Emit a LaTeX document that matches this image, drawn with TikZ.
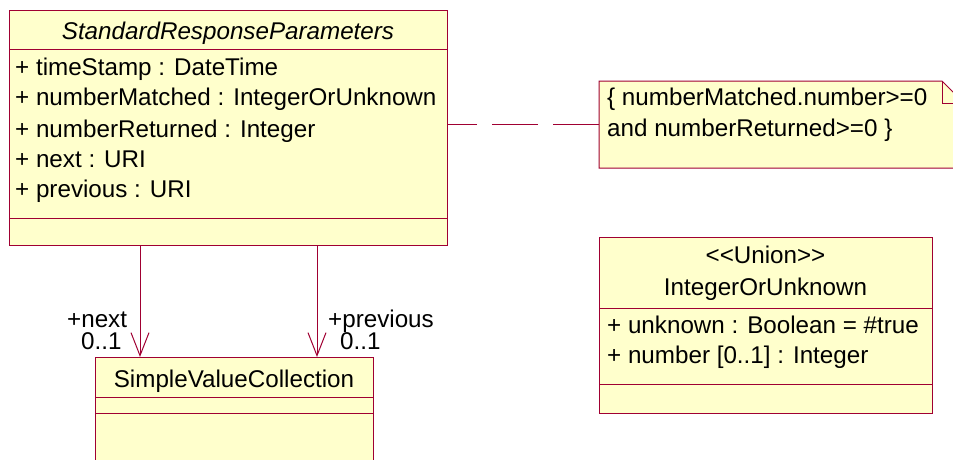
\documentclass[tikz,border=0pt]{standalone}
\usepackage{fontspec}
\setmainfont{Liberation Sans}
\usetikzlibrary{arrows.meta,calc}
\definecolor{umlline}{RGB}{160,0,50}
\definecolor{umlfill}{RGB}{255,255,204}
\tikzset{
  box/.style={draw=umlline, fill=umlfill, line width=1pt, anchor=north west, inner sep=0pt},
  sep/.style={draw=umlline, line width=1pt},
  txt/.style={inner sep=0pt, anchor=base west, font=\fontsize{24.2}{28}\selectfont},
  ctxt/.style={inner sep=0pt, anchor=base, font=\fontsize{24.2}{28}\selectfont},
  rolelbl/.style={inner sep=0pt, anchor=base west, align=left, font=\fontsize{24.2}{22}\selectfont},
  assoc/.style={draw=umlline, line width=1pt, -{Straight Barb[length=23pt,width=18pt,line width=1pt]}},
  anchorline/.style={draw=umlline, line width=1pt, dash pattern=on 46pt off 15pt},
}
\begin{document}
\begin{tikzpicture}[x=1pt,y=-1pt]
\useasboundingbox (0,0) rectangle (953,460);
\clip (0,0) rectangle (953,460);
% main class
\node[box, minimum width=438pt, minimum height=235pt] (main) at (9,10) {};
\draw[sep] (9,50) -- (447,50);
\draw[sep] (9,218) -- (447,218);
\node[ctxt, font=\fontsize{24.2}{28}\selectfont\itshape] (mt) at (228,40) {StandardResponseParameters};
\node[txt] (a1) at (15,76) {+ timeStamp : DateTime};
\node[txt] (a2) at (15,106) {+ numberMatched : IntegerOrUnknown};
\node[txt] (a3) at (15,137) {+ numberReturned : Integer};
\node[txt] (a4) at (15,167) {+ next : URI};
\node[txt] (a5) at (15,197) {+ previous : URI};
% simple value collection
\node[box, minimum width=278pt, minimum height=120pt] (svc) at (95,357) {};
\draw[sep] (95,397) -- (373,397);
\draw[sep] (95,413) -- (373,413);
\node[ctxt] (st) at (234,387) {SimpleValueCollection};
% associations
\draw[assoc] ($(main.south west)+(131,0)$) -- ($(svc.north west)+(45,0)$);
\draw[assoc] ($(main.south west)+(308,0)$) -- ($(svc.north west)+(222,0)$);
\node[rolelbl] (l1) at (67,349) {+next\\\hspace*{14pt}0..1};
\node[rolelbl] (l3) at (328,349) {+previous\\\hspace*{12pt}0..1};
% note
\node[inner sep=0pt, minimum width=365pt, minimum height=87pt, anchor=north west] (note) at (599,81) {};
\filldraw[draw=umlline, fill=umlfill, line width=1pt] (599,81) -- (942,81) -- (964,103) -- (964,168) -- (599,168) -- cycle;
\draw[sep] (942,81) -- (942,103) -- (964,103);
\node[txt] (n1) at (607,106) {\{ numberMatched.number>=0};
\node[txt] (n2) at (607,136) {and numberReturned>=0 \}};
\draw[anchorline] (note.west) -- (note.west -| main.east);
% union
\node[box, minimum width=333pt, minimum height=176pt] (uni) at (599,237) {};
\draw[sep] (599,308) -- (932,308);
\draw[sep] (599,384) -- (932,384);
\node[ctxt] (u1) at (765.5,263) {{<}{<}Union{>}{>}};
\node[ctxt] (u2) at (765.5,295) {IntegerOrUnknown};
\node[txt] (u3) at (607,333) {+ unknown : Boolean = \#true};
\node[txt] (u4) at (607,363) {+ number [0..1] : Integer};
\end{tikzpicture}
\end{document}
